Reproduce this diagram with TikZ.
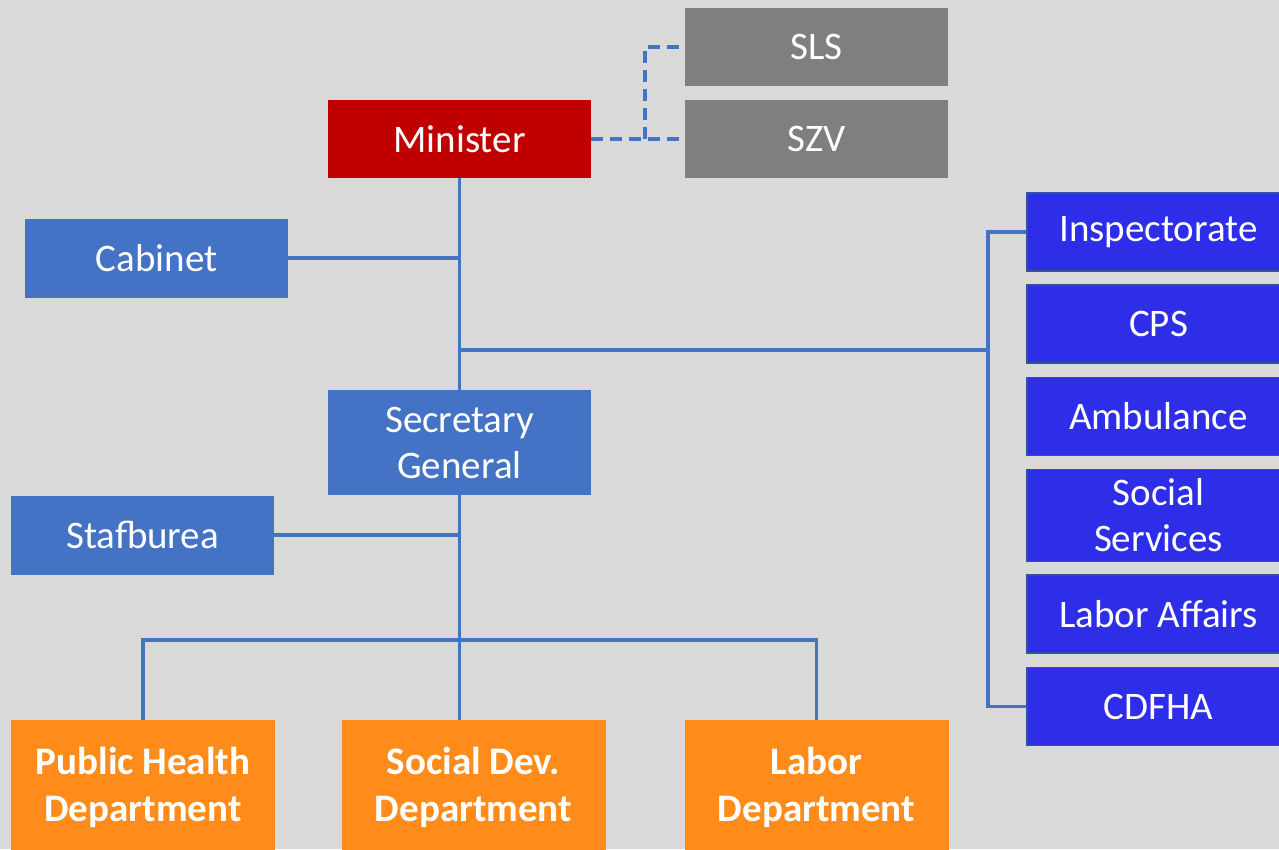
\documentclass[tikz,border=0pt]{standalone}
\usepackage{fontspec}
\setmainfont{Carlito}
\definecolor{bgc}{HTML}{D9D9D9}
\definecolor{lblue}{HTML}{4472C4}
\definecolor{dblue}{HTML}{2E2EE8}
\definecolor{dbord}{HTML}{2F5597}
\definecolor{mred}{HTML}{C00000}
\definecolor{mgrey}{HTML}{7F7F7F}
\definecolor{morange}{HTML}{FF8C1A}
\begin{document}
\begin{tikzpicture}[x=1pt,y=-1pt,
  box/.style={rectangle,inner sep=0pt,text=white,align=center,
    font=\fontsize{39}{46}\selectfont},
  bluebox/.style={box,fill=lblue,minimum width=263pt,minimum height=79pt},
  redbox/.style={box,fill=mred,minimum width=263pt,minimum height=78pt},
  greybox/.style={box,fill=mgrey,minimum width=263pt,minimum height=78pt},
  rightbox/.style={box,fill=dblue,draw=dbord,line width=1.5pt,minimum width=263pt,minimum height=78pt},
  orangebox/.style={box,fill=morange,minimum width=264pt,minimum height=134pt,
    font=\bfseries\fontsize{39}{47}\selectfont},
  conn/.style={draw=lblue,line width=3.5pt},
  dconn/.style={conn,dash pattern=on 12pt off 7pt}]
\fill[bgc] (0,0) rectangle (1279,849);
\useasboundingbox (0,0) rectangle (1279,849);
\clip (0,0) rectangle (1279,849);

\node[greybox] (sls) at (816.5,47) {SLS};
\node[greybox] (szv) at (816.5,139) {SZV};
\node[redbox] (min) at (459.5,139) {Minister};
\node[bluebox] (cab) at (156.5,258) {Cabinet};
\node[bluebox,minimum height=105pt] (sg) at (459.5,442.5) {Secretary\\General};
\node[bluebox] (stf) at (142.5,535) {Stafburea};

\node[rightbox] (insp) at (1158.5,232) {Inspectorate};
\node[rightbox] (cps) at (1158.5,324) {CPS};
\node[rightbox] (amb) at (1158.5,416.5) {Ambulance};
\node[rightbox,minimum height=92pt] (soc) at (1158.5,515.5) {Social\\Services};
\node[rightbox] (lab) at (1158.5,614) {Labor Affairs};
\node[rightbox] (cdf) at (1158.5,706.5) {CDFHA};

\node[orangebox] (ph) at (143,787) {Public Health\\Department};
\node[orangebox] (sd) at (473.5,787) {Social Dev.\\Department};
\node[orangebox] (ld) at (816.5,787) {Labor\\Department};

\coordinate (dx) at (645,100);
\coordinate (j1) at (459.5,350);
\coordinate (rx) at (988,350);
\coordinate (j2) at (459.5,640);

\path[dconn] (min.east) -- (szv.west);
\path[dconn] (min.east -| dx) |- (sls.west);
\path[conn] (min.south) -- (sg.north);
\path[conn] (cab.east) -- (cab.east -| min.south);
\path[conn] (j1) -- (rx);
\path[conn] (insp.west) -| (rx) |- (cdf.west);
\path[conn] (stf.east) -- (stf.east -| sg.south);
\path[conn] (sg.south) -- (sg.south |- sd.north);
\path[conn] (ph.north) |- (j2) -| (ld.north);
\end{tikzpicture}
\end{document}
